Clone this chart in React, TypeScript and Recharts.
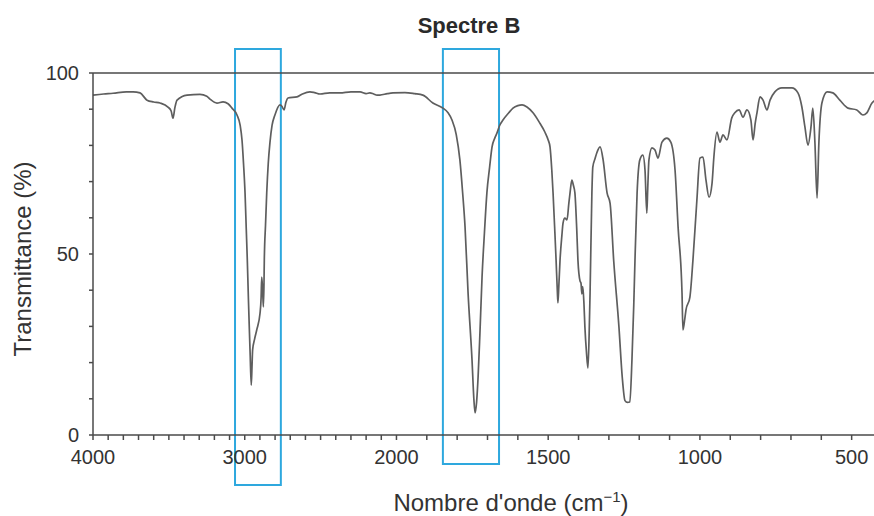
import { LineChart, Line, XAxis, YAxis, ReferenceArea, ReferenceLine, Label } from 'recharts'

// IR spectrum: wavenumber (cm-1) and transmittance (%)
const wavenumbers = [
  4000, 3930, 3868, 3780, 3736, 3690, 3644, 3600, 3558, 3506,
  3485, 3473, 3460, 3446, 3380, 3295, 3250, 3229, 3183, 3143,
  3110, 3084, 3051, 3030, 3018, 3008, 2998, 2990, 2983, 2976,
  2970, 2964, 2957, 2952, 2948, 2935, 2921, 2899, 2892, 2888,
  2882, 2877, 2873, 2871, 2863, 2855, 2845, 2834, 2820, 2801,
  2768, 2755, 2741, 2728, 2715, 2656, 2620, 2570, 2540, 2504,
  2440, 2372, 2300, 2240, 2200, 2175, 2150, 2128, 2109, 2060,
  2023, 1972, 1940, 1913, 1880, 1847, 1830, 1817, 1803, 1791,
  1782, 1774, 1764, 1751, 1745, 1741, 1736, 1731, 1725, 1718,
  1710, 1702, 1693, 1685, 1676, 1669, 1660, 1649, 1630, 1616,
  1600, 1586, 1570, 1550, 1530, 1511, 1500, 1494, 1488, 1484,
  1478, 1474, 1470, 1468, 1465, 1461, 1455, 1451, 1445, 1438,
  1432, 1428, 1422, 1417, 1412, 1406, 1402, 1395, 1392, 1389,
  1386, 1382, 1379, 1374, 1369, 1365, 1362, 1356, 1353, 1345,
  1340, 1329, 1319, 1306, 1296, 1284, 1267, 1256, 1247, 1239,
  1231, 1224, 1218, 1214, 1207, 1198, 1188, 1181, 1175, 1172,
  1168, 1158, 1148, 1138, 1125, 1109, 1096, 1082, 1072, 1059,
  1056, 1050, 1046, 1033, 1023, 1010, 1000, 990, 980, 970,
  960, 954, 944, 934, 924, 911, 895, 885, 871, 858,
  845, 832, 825, 818, 812, 802, 792, 779, 769, 753,
  730, 697, 677, 664, 654, 644, 634, 628, 621, 614,
  608, 598, 581, 562, 539, 512, 483, 463, 450, 433,
  420, 400,
]

const transmittance = [
  93.9, 94.2, 94.4, 94.8, 94.8, 94.5, 92.5, 92.0, 91.7, 90.6,
  89.5, 87.5, 90.5, 92.5, 93.9, 94.1, 93.6, 92.8, 91.7, 92.0,
  91.5, 90.3, 88.4, 85.5, 81.5, 75.0, 66.9, 57.0, 48.3, 38.0,
  29.8, 22.0, 13.8, 19.0, 23.5, 26.5, 29.0, 33.7, 38.0, 43.6,
  40.0, 35.4, 42.0, 48.3, 58.0, 66.9, 75.0, 80.7, 85.5, 88.4,
  91.2, 90.8, 89.8, 92.0, 93.1, 93.4, 94.2, 94.8, 94.6, 94.2,
  94.5, 94.5, 94.8, 94.8, 94.3, 94.5, 94.2, 93.9, 93.9, 94.3,
  94.5, 94.6, 94.3, 93.9, 91.7, 90.3, 89.0, 87.0, 83.0, 76.0,
  67.0, 57.5, 39.2, 20.7, 10.0, 6.1, 9.0, 16.0, 28.0, 43.6,
  56.0, 66.9, 74.0, 79.6, 82.0, 83.4, 85.5, 87.0, 89.0, 90.3,
  91.0, 91.2, 90.6, 89.0, 86.5, 83.7, 81.5, 79.6, 73.0, 66.9,
  56.0, 48.3, 40.0, 36.5, 41.0, 48.3, 55.0, 58.6, 59.9, 59.4,
  64.0, 66.9, 70.4, 69.0, 66.9, 57.0, 48.3, 42.5, 42.0, 39.0,
  41.0, 36.0, 29.8, 23.0, 18.5, 28.0, 39.2, 66.9, 74.0, 76.5,
  77.9, 79.6, 76.0, 66.9, 64.0, 48.0, 30.0, 16.0, 9.5, 9.0,
  9.1, 20.7, 36.0, 48.3, 66.9, 76.0, 77.3, 73.2, 61.3, 68.0,
  76.0, 79.3, 78.7, 76.5, 80.9, 82.0, 80.9, 73.2, 57.5, 39.2,
  29.0, 32.0, 34.5, 38.1, 48.3, 64.9, 76.5, 76.8, 70.4, 65.7,
  69.6, 76.8, 83.7, 80.9, 82.9, 81.5, 87.6, 89.0, 89.8, 87.8,
  89.8, 87.0, 81.5, 86.0, 89.0, 93.4, 92.5, 89.8, 92.5, 94.8,
  95.9, 95.9, 94.5, 90.6, 85.1, 80.1, 85.1, 90.3, 80.7, 65.5,
  80.7, 91.7, 94.8, 94.5, 92.5, 90.3, 89.8, 88.4, 89.0, 91.7,
  92.5, 91.5,
]

const xLabels = [4000, 3000, 2000, 1500, 1000, 500]
const yTicks = [0, 10, 20, 30, 40, 50, 60, 70, 80, 90, 100]
const yLabels = [0, 50, 100]

// highlighted bands (blue frames), in cm-1 and % (they overflow the plot)
const boxStart = [3064, 1847]
const boxEnd = [2762, 1662]
const boxLow = [-13.8, -8]
const boxHigh = [106.6, 106.6]

// the scale is doubled below 2000 cm-1, like on the printed spectrum
function toAxis(w: number): number {
  return w >= 2000 ? (4000 - w) / 2 : 1000 + (2000 - w)
}
function fromAxis(p: number): number {
  return p <= 1000 ? 4000 - 2 * p : 3000 - p
}

const minorTicks: number[] = []
for (let w = 4000; w >= 400; w -= 100) minorTicks.push(toAxis(w))

const data = wavenumbers.map((w, i) => ({ p: toAxis(w), t: transmittance[i] }))

const FONT = '"Liberation Sans", Arial, Helvetica, sans-serif'
const AXIS = '#4a4a4a'
const BLUE = '#2ea8de'

export default function App() {
  return (
    <div style={{
      position: 'absolute', left: 0, top: 0, width: 874, height: 516,
      overflow: 'hidden', background: '#fff', fontFamily: FONT,
    }}>
      <LineChart width={900} height={516} data={data} margin={{ top: 73, right: 18, bottom: 21, left: 0 }}>
        <XAxis
          dataKey="p"
          type="number"
          domain={[0, 2600]}
          ticks={minorTicks}
          interval={0}
          height={60}
          tickSize={5}
          tickMargin={10}
          stroke={AXIS}
          strokeWidth={1.5}
          tick={{ fill: '#333', fontSize: 20, fontFamily: FONT }}
          tickFormatter={(p: number) => {
            const w = Math.round(fromAxis(p))
            return xLabels.includes(w) ? String(w) : ''
          }}
        >
          <Label
            content={() => (
              <g fontFamily={FONT} fill="#333">
                <text x={511} y={511} textAnchor="middle" fontSize={24}>
                  Nombre d'onde (cm<tspan dy={-9} fontSize={15}>−1</tspan><tspan dy={9}>)</tspan>
                </text>
                <text x={469} y={33} textAnchor="middle" fontSize={22} fontWeight="bold" fill="#2a2a2a">
                  Spectre B
                </text>
              </g>
            )}
          />
        </XAxis>
        <YAxis
          type="number"
          domain={[0, 100]}
          ticks={yTicks}
          interval={0}
          width={93}
          tickSize={4}
          tickMargin={10}
          stroke={AXIS}
          strokeWidth={1.5}
          tick={{ fill: '#333', fontSize: 20, fontFamily: FONT }}
          tickFormatter={(v: number) => (yLabels.includes(v) ? String(v) : '')}
        >
          <Label
            content={() => (
              <text
                x={22}
                y={259}
                transform="rotate(-90, 22, 259)"
                textAnchor="middle"
                dominantBaseline="central"
                fontSize={24}
                fontFamily={FONT}
                fill="#333"
              >
                Transmittance (%)
              </text>
            )}
          />
        </YAxis>
        <ReferenceLine y={100} stroke={AXIS} strokeWidth={1.5} />
        <Line
          type="monotone"
          dataKey="t"
          stroke="#5e5e5e"
          strokeWidth={1.7}
          dot={false}
          isAnimationActive={false}
        />
        {boxStart.map((w, i) => (
          <ReferenceArea
            key={i}
            x1={toAxis(w)}
            x2={toAxis(boxEnd[i])}
            y1={boxLow[i]}
            y2={boxHigh[i]}
            ifOverflow="visible"
            fill="none"
            fillOpacity={0}
            stroke={BLUE}
            strokeWidth={2}
          />
        ))}
      </LineChart>
    </div>
  )
}
